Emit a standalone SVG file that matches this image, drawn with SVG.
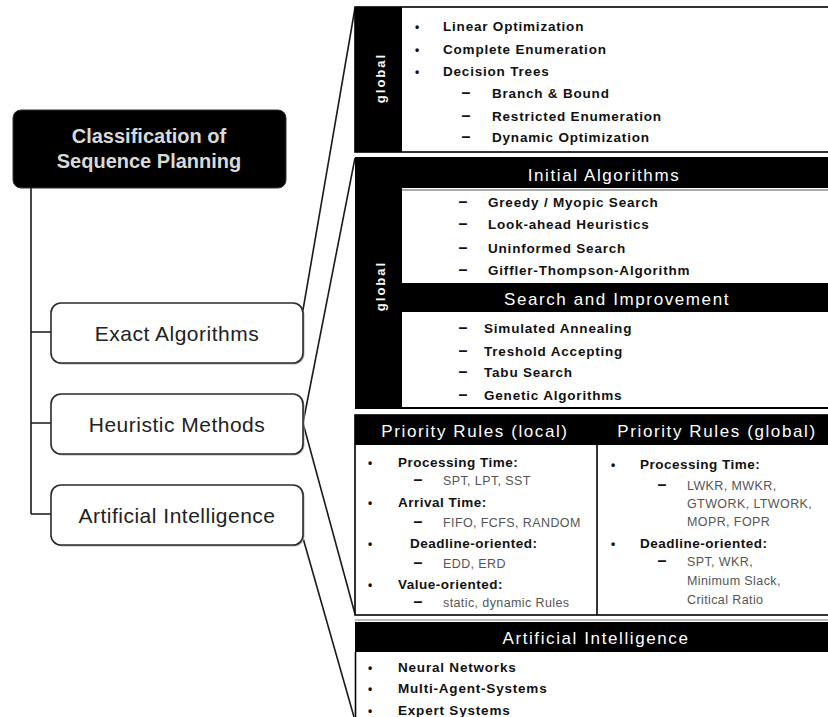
<svg xmlns="http://www.w3.org/2000/svg" width="828" height="717" viewBox="0 0 828 717">
  <style>
    .bg { fill: #ffffff; }
    .tree { fill: none; stroke: #1a1a1a; stroke-width: 1.6; }
    .link { fill: none; stroke: #1a1a1a; stroke-width: 1.6; }
    .root { fill: #000000; stroke: #333333; stroke-width: 1; }
    .rootTxt { font-family: "Liberation Sans", Arial, sans-serif; font-size: 20px; font-weight: bold; fill: #d9d9d9; text-anchor: middle; }
    .box { fill: #ffffff; stroke: #2a2a2a; stroke-width: 1.6; }
    .boxShadow { fill: #b0b0b0; }
    .boxTxt { font-family: "Liberation Sans", Arial, sans-serif; font-size: 21px; fill: #222222; text-anchor: middle; letter-spacing: 0.5px; }
    .panel { fill: #ffffff; stroke: #000000; stroke-width: 1.6; }
    .band { fill: #000000; }
    .hdr { font-family: "Liberation Sans", Arial, sans-serif; font-size: 17px; fill: #ffffff; text-anchor: middle; letter-spacing: 1.6px; }
    .side { font-family: "Liberation Sans", Arial, sans-serif; font-size: 13px; font-weight: bold; fill: #ffffff; text-anchor: middle; letter-spacing: 2px; }
    .item { font-family: "Liberation Sans", Arial, sans-serif; font-size: 13.5px; font-weight: bold; fill: #111111; letter-spacing: 0.8px; }
    .rule { font-family: "Liberation Sans", Arial, sans-serif; font-size: 13.5px; font-weight: bold; fill: #111111; letter-spacing: 0.5px; }
    .sub { font-family: "Liberation Sans", Arial, sans-serif; font-size: 12.5px; fill: #555555; letter-spacing: 0.4px; }
    .mark { font-family: "Liberation Sans", Arial, sans-serif; font-size: 12px; font-weight: bold; fill: #111111; text-anchor: middle; }
    .dash { font-family: "Liberation Sans", Arial, sans-serif; font-size: 16px; font-weight: bold; fill: #111111; text-anchor: middle; }
    .divider { stroke: #000000; stroke-width: 1.6; }
  </style>

  <rect class="bg" x="0" y="0" width="828" height="717"/>

  <!-- tree lines and links to the detail panels -->
  <g id="connectors">
    <path class="tree" d="M31,188 V514 M31,332 H51 M31,423 H51 M31,514 H51"/>
    <path class="link" d="M303,310 L355,8"/>
    <path class="link" d="M303,423 L355,158"/>
    <path class="link" d="M303,423 L355,614"/>
    <path class="link" d="M303,538 L354,717"/>
  </g>

  <!-- root -->
  <g id="root">
    <rect class="root" x="13" y="110" width="273" height="78" rx="8"/>
    <text class="rootTxt" x="149" y="143">Classification of</text>
    <text class="rootTxt" x="149" y="168">Sequence Planning</text>
  </g>

  <!-- category boxes -->
  <g id="exact">
    <rect class="boxShadow" x="52.5" y="304.5" width="252" height="60" rx="10"/>
    <rect class="box" x="51" y="303" width="252" height="60" rx="10"/>
    <text class="boxTxt" x="177" y="341">Exact Algorithms</text>
  </g>
  <g id="heuristic">
    <rect class="boxShadow" x="52.5" y="395.5" width="252" height="60" rx="10"/>
    <rect class="box" x="51" y="394" width="252" height="60" rx="10"/>
    <text class="boxTxt" x="177" y="432">Heuristic Methods</text>
  </g>
  <g id="ai">
    <rect class="boxShadow" x="52.5" y="486.5" width="252" height="60" rx="10"/>
    <rect class="box" x="51" y="485" width="252" height="60" rx="10"/>
    <text class="boxTxt" x="177" y="523">Artificial Intelligence</text>
  </g>

  <!-- exact algorithms detail -->
  <g id="panel-exact">
    <rect class="panel" x="355" y="7" width="480" height="145"/>
    <rect class="band" x="355" y="7" width="47" height="145"/>
    <text class="side" transform="translate(385,78) rotate(-90)">global</text>
    <text class="mark" x="417" y="31">•</text>
    <text class="item" x="443" y="31">Linear Optimization</text>
    <text class="mark" x="417" y="53.5">•</text>
    <text class="item" x="443" y="53.5">Complete Enumeration</text>
    <text class="mark" x="417" y="75.5">•</text>
    <text class="item" x="443" y="75.5">Decision Trees</text>
    <text class="dash" x="466" y="97.5">–</text>
    <text class="item" x="492" y="97.5">Branch &amp; Bound</text>
    <text class="dash" x="466" y="121">–</text>
    <text class="item" x="492" y="121">Restricted Enumeration</text>
    <text class="dash" x="466" y="142">–</text>
    <text class="item" x="492" y="142">Dynamic Optimization</text>
  </g>

  <!-- heuristic methods detail -->
  <g id="panel-heuristic">
    <rect class="band" x="355" y="157" width="480" height="252"/>
    <rect fill="#ffffff" x="402" y="188" width="430" height="95"/>
    <line x1="402" y1="190" x2="830" y2="190" stroke="#555555" stroke-width="1"/>
    <rect fill="#ffffff" x="402" y="312" width="430" height="95"/>
    <text class="side" transform="translate(385,286) rotate(-90)">global</text>
    <text class="hdr" x="604" y="181">Initial Algorithms</text>
    <text class="dash" x="463" y="207">–</text>
    <text class="item" x="488" y="207">Greedy / Myopic Search</text>
    <text class="dash" x="463" y="229">–</text>
    <text class="item" x="488" y="229">Look-ahead Heuristics</text>
    <text class="dash" x="463" y="253">–</text>
    <text class="item" x="488" y="253">Uninformed Search</text>
    <text class="dash" x="463" y="275">–</text>
    <text class="item" x="488" y="275">Giffler-Thompson-Algorithm</text>
    <text class="hdr" x="617" y="305">Search and Improvement</text>
    <text class="dash" x="463" y="333">–</text>
    <text class="item" x="484" y="333">Simulated Annealing</text>
    <text class="dash" x="463" y="356">–</text>
    <text class="item" x="484" y="356">Treshold Accepting</text>
    <text class="dash" x="463" y="377">–</text>
    <text class="item" x="484" y="377">Tabu Search</text>
    <text class="dash" x="463" y="400">–</text>
    <text class="item" x="484" y="400">Genetic Algorithms</text>
  </g>

  <!-- priority rules detail -->
  <g id="panel-priority">
    <rect class="panel" x="355" y="415" width="480" height="200"/>
    <rect class="band" x="355" y="415" width="480" height="30"/>
    <line class="divider" x1="597" y1="445" x2="597" y2="615"/>
    <text class="hdr" x="475" y="437">Priority Rules (local)</text>
    <text class="hdr" x="717" y="437">Priority Rules (global)</text>

    <text class="mark" x="370" y="467">•</text>
    <text class="rule" x="398" y="467">Processing Time:</text>
    <text class="dash" x="418" y="485">–</text>
    <text class="sub" x="443" y="485">SPT, LPT, SST</text>
    <text class="mark" x="370" y="507">•</text>
    <text class="rule" x="398" y="507">Arrival Time:</text>
    <text class="dash" x="418" y="527">–</text>
    <text class="sub" x="443" y="527">FIFO, FCFS, RANDOM</text>
    <text class="mark" x="370" y="548">•</text>
    <text class="rule" x="410" y="548">Deadline-oriented:</text>
    <text class="dash" x="418" y="568">–</text>
    <text class="sub" x="443" y="568">EDD, ERD</text>
    <text class="mark" x="370" y="589">•</text>
    <text class="rule" x="398" y="589">Value-oriented:</text>
    <text class="dash" x="418" y="607">–</text>
    <text class="sub" x="443" y="607">static, dynamic Rules</text>

    <text class="mark" x="613" y="469">•</text>
    <text class="rule" x="640" y="469">Processing Time:</text>
    <text class="dash" x="662" y="490">–</text>
    <text class="sub" x="687" y="490">LWKR, MWKR,</text>
    <text class="sub" x="687" y="508">GTWORK, LTWORK,</text>
    <text class="sub" x="687" y="526">MOPR, FOPR</text>
    <text class="mark" x="613" y="548">•</text>
    <text class="rule" x="640" y="548">Deadline-oriented:</text>
    <text class="dash" x="662" y="566">–</text>
    <text class="sub" x="687" y="566">SPT, WKR,</text>
    <text class="sub" x="687" y="585">Minimum Slack,</text>
    <text class="sub" x="687" y="604">Critical Ratio</text>
  </g>

  <!-- artificial intelligence detail -->
  <g id="panel-ai">
    <line x1="355" y1="620" x2="830" y2="620" stroke="#777777" stroke-width="1"/>
    <rect class="band" x="355" y="622" width="480" height="30"/>
    <line class="divider" x1="355.5" y1="652" x2="355.5" y2="717"/>
    <text class="hdr" x="596" y="644">Artificial Intelligence</text>
    <text class="mark" x="370" y="672">•</text>
    <text class="item" x="398" y="672">Neural Networks</text>
    <text class="mark" x="370" y="693">•</text>
    <text class="item" x="398" y="693">Multi-Agent-Systems</text>
    <text class="mark" x="370" y="715">•</text>
    <text class="item" x="398" y="715">Expert Systems</text>
  </g>
</svg>
